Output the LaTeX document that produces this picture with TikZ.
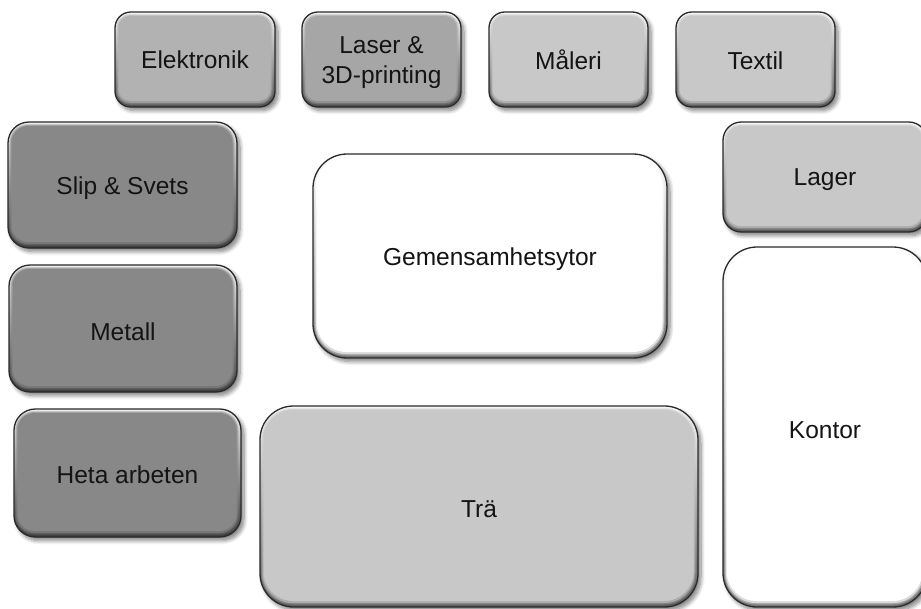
\documentclass[tikz,border=0pt]{standalone}
\usepackage{fontspec}
\setmainfont{Liberation Sans}
\usetikzlibrary{shadows.blur,calc}
\definecolor{gdark}{HTML}{888888}
\definecolor{gmid}{HTML}{B2B2B2}
\definecolor{gmidd}{HTML}{A6A6A6}
\definecolor{glight}{HTML}{C8C8C8}
\definecolor{edge}{HTML}{2A2A2A}
\tikzset{
  roomtext/.style={align=center, inner sep=0pt,
    font=\fontsize{24.5}{30.5}\selectfont, text=black!92},
  roomb/.style={draw=edge, line width=1.3pt, inner sep=0pt,
    blur shadow={shadow xshift=3pt, shadow yshift=-3.5pt, shadow blur steps=8,
      shadow blur radius=4pt, shadow opacity=50}},
  bev/.style 2 args={fill=#1, path picture={
    \fill[top color=#1!15!white, bottom color=#1!45!black]
      (path picture bounding box.south west) rectangle (path picture bounding box.north east);
    \fill[#1, opacity=0.35, rounded corners=#2 pt+1.5pt]
      ($(path picture bounding box.south west)+(1.5pt,2.5pt)$) rectangle
      ($(path picture bounding box.north east)+(-2.5pt,-2pt)$);
    \fill[#1, opacity=0.6, rounded corners=#2 pt+0.5pt]
      ($(path picture bounding box.south west)+(2.5pt,4pt)$) rectangle
      ($(path picture bounding box.north east)+(-3.5pt,-3pt)$);
    \fill[#1, rounded corners=#2 pt]
      ($(path picture bounding box.south west)+(3.5pt,6pt)$) rectangle
      ($(path picture bounding box.north east)+(-4.5pt,-4pt)$);
  }}
}
% name, x1, y1, x2, y2, fill, text shift, text
\newcommand\roombox[8]{%
  \pgfmathsetmacro\bw{#4-#2}%
  \pgfmathsetmacro\bh{#5-#3}%
  \pgfmathsetmacro\br{0.167*min(\bw,\bh)}%
  \pgfmathsetmacro\bri{\br-4}%
  \node[roomb, bev={#6}{\bri}, minimum width=\bw pt, minimum height=\bh pt,
    rounded corners=\br pt,
    label={[roomtext, yshift=#7pt]center:{#8}}] (#1) at ({(#2+#4)/2},{(#3+#5)/2}) {};%
}
\begin{document}
\begin{tikzpicture}[x=1pt,y=-1pt]
\useasboundingbox (0,0) rectangle (921,608);
\clip (0,0) rectangle (921,608);
\roombox{elek}{115}{12}{275}{107}{gmid}{-0.5}{Elektronik}
\roombox{laser}{302}{12}{461}{107}{gmidd}{-3}{Laser \&\\3D-printing}
\roombox{maleri}{489}{12}{648}{107}{glight}{-0.5}{Måleri}
\roombox{textil}{676}{12}{835}{107}{glight}{-1}{Textil}
\roombox{slip}{8}{122}{237}{248}{gdark}{-3}{Slip \& Svets}
\roombox{metall}{9}{265}{237}{392}{gdark}{-3}{Metall}
\roombox{heta}{14}{409}{241}{537}{gdark}{-2}{Heta arbeten}
\roombox{gem}{313}{154}{667}{358}{white}{-3}{Gemensamhetsytor}
\roombox{tra}{260}{406}{698}{607}{glight}{-3}{Trä}
\roombox{lager}{723}{122}{927}{232}{glight}{-3}{Lager}
\roombox{kontor}{723}{247}{927}{607}{white}{-3}{Kontor}
\end{tikzpicture}
\end{document}
